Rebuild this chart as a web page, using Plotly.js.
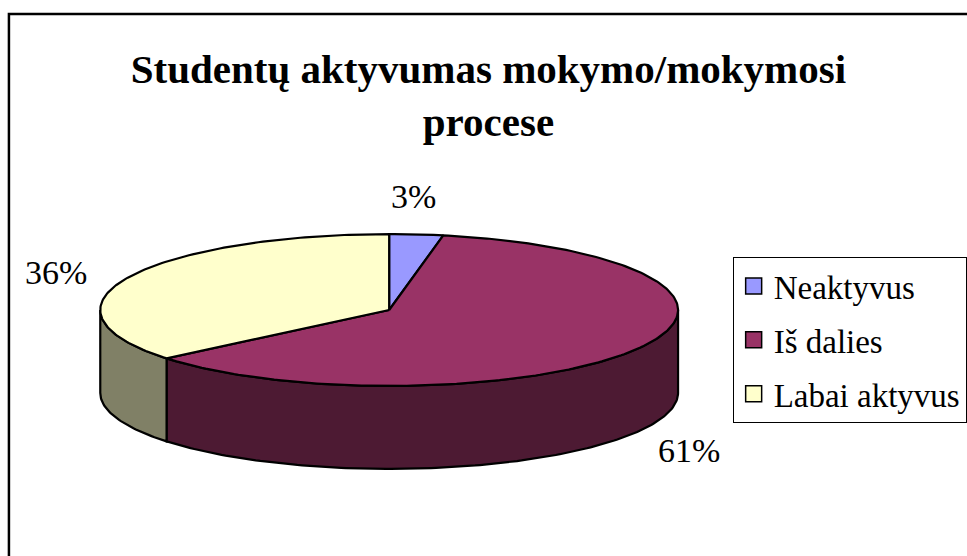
<!DOCTYPE html>
<html>
<head>
<meta charset="utf-8">
<script src="https://cdn.plot.ly/plotly-3.0.1.min.js"></script>
<style>html,body{margin:0;padding:0;background:#fff;}#chart{width:967px;height:556px;}</style>
</head>
<body>
<div id="chart"></div>
<script>
// ---- data ----
const categories = ['Neaktyvus', 'Iš dalies', 'Labai aktyvus'];
const values = [3, 61, 36];
const percentLabels = ['3%', '61%', '36%'];

// ---- styles ----
const topColors = ['#9999FF', '#993366', '#FFFFCC'];
const sideColors = ['#4D4D80', '#4D1A33', '#808066'];
const FONT = 'Liberation Serif, Times New Roman, serif';

// pseudo-3D geometry (axis units; 1 unit = horizontal radius)
const RX = 1, RY = 0.261, DEPTH = 0.285;
const W = 967, H = 556, CXPX = 392, CYPX = 310, UNIT = 291;

function pt(deg, dy) {
  const r = deg * Math.PI / 180;
  return [RX * Math.cos(r), RY * Math.sin(r) + dy];
}
function arc(a0, a1, dy) { // from a0 to a1 (degrees)
  const n = Math.max(2, Math.ceil(Math.abs(a0 - a1)));
  const out = [];
  for (let i = 0; i <= n; i++) out.push(pt(a0 + (a1 - a0) * i / n, dy));
  return out;
}

const total = values.reduce((s, v) => s + v, 0);
const sideTraces = [], topTraces = [], legendTraces = [], annotations = [];
let cum = 0;
values.forEach((v, i) => {
  const a0 = 90 - cum / total * 360;          // start angle (clockwise from 12 o'clock)
  const a1 = 90 - (cum + v) / total * 360;    // end angle
  cum += v;

  // visible side wall (front half: angles between -180 and 0, mod 360)
  [-360, 0, 360].forEach(k => {
    const lo = Math.max(a1, -180 + k), hi = Math.min(a0, 0 + k);
    if (hi > lo) {
      const topEdge = arc(hi, lo, 0);
      const botEdge = arc(lo, hi, -DEPTH);
      const poly = topEdge.concat(botEdge);
      poly.push(poly[0]);
      sideTraces.push({
        type: 'scatter', mode: 'lines', fill: 'toself',
        x: poly.map(p => p[0]), y: poly.map(p => p[1]),
        fillcolor: sideColors[i], line: {color: '#000', width: 2.2},
        showlegend: false, hoverinfo: 'skip'
      });
    }
  });

  // top face
  const topPoly = [[0, 0]].concat(arc(a0, a1, 0));
  topPoly.push([0, 0]);
  topTraces.push({
    type: 'scatter', mode: 'lines', fill: 'toself',
    x: topPoly.map(p => p[0]), y: topPoly.map(p => p[1]),
    fillcolor: topColors[i], line: {color: '#000', width: 2.2},
    showlegend: false, hoverinfo: 'skip'
  });

  // legend entry
  legendTraces.push({
    type: 'scatter', mode: 'markers', x: [null], y: [null],
    name: categories[i], legendgroup: 'g' + i,
    marker: {symbol: 'square', size: 18, color: topColors[i], line: {color: '#000', width: 1.5}},
    hoverinfo: 'skip'
  });

  // percentage label
  const mid = (a0 + a1) / 2 * Math.PI / 180;
  const s = Math.sin(mid);
  const lx = RX * 1.24 * Math.cos(mid);
  const ly = s > 0 ? RY * 1.5 * Math.pow(s, 1.3) : RY * 1.5 * s - DEPTH;
  annotations.push({
    x: lx, y: ly, xref: 'x', yref: 'y', text: percentLabels[i], showarrow: false,
    xanchor: 'center', yanchor: 'middle', xshift: -9,
    font: {family: FONT, size: 34, color: '#000'}
  });
});

const layout = {
  width: W, height: H,
  margin: {l: 0, r: 0, t: 0, b: 0},
  paper_bgcolor: '#fff', plot_bgcolor: '#fff',
  font: {family: FONT, color: '#000'},
  title: {
    text: 'Studentų aktyvumas mokymo/mokymosi<br>procese',
    font: {family: FONT, size: 41, color: '#000', weight: 'bold'},
    x: 492 / W, xanchor: 'center', xref: 'paper',
    y: 1 - 83 / H, yanchor: 'top', yref: 'paper'
  },
  xaxis: {range: [-CXPX / UNIT, (W - CXPX) / UNIT], visible: false, fixedrange: true},
  yaxis: {range: [-(H - CYPX) / UNIT, CYPX / UNIT], visible: false, fixedrange: true},
  showlegend: true,
  legend: {
    x: 738 / W, xanchor: 'left', y: 1 - 257 / H, yanchor: 'top',
    bordercolor: '#000', borderwidth: 1, bgcolor: '#fff',
    font: {family: FONT, size: 33, color: '#000'},
    traceorder: 'grouped', tracegroupgap: 8, itemwidth: 30,
    itemclick: false, itemdoubleclick: false
  },
  shapes: [{
    type: 'rect', xref: 'paper', yref: 'paper',
    x0: 9 / W, x1: 1.2, y0: 1 - 14 / H, y1: -0.2,
    line: {color: '#000', width: 2.5}, fillcolor: 'rgba(0,0,0,0)', layer: 'above'
  }],
  annotations: annotations
};

Plotly.newPlot('chart', sideTraces.concat(topTraces, legendTraces), layout,
  {displayModeBar: false});
</script>
</body>
</html>
